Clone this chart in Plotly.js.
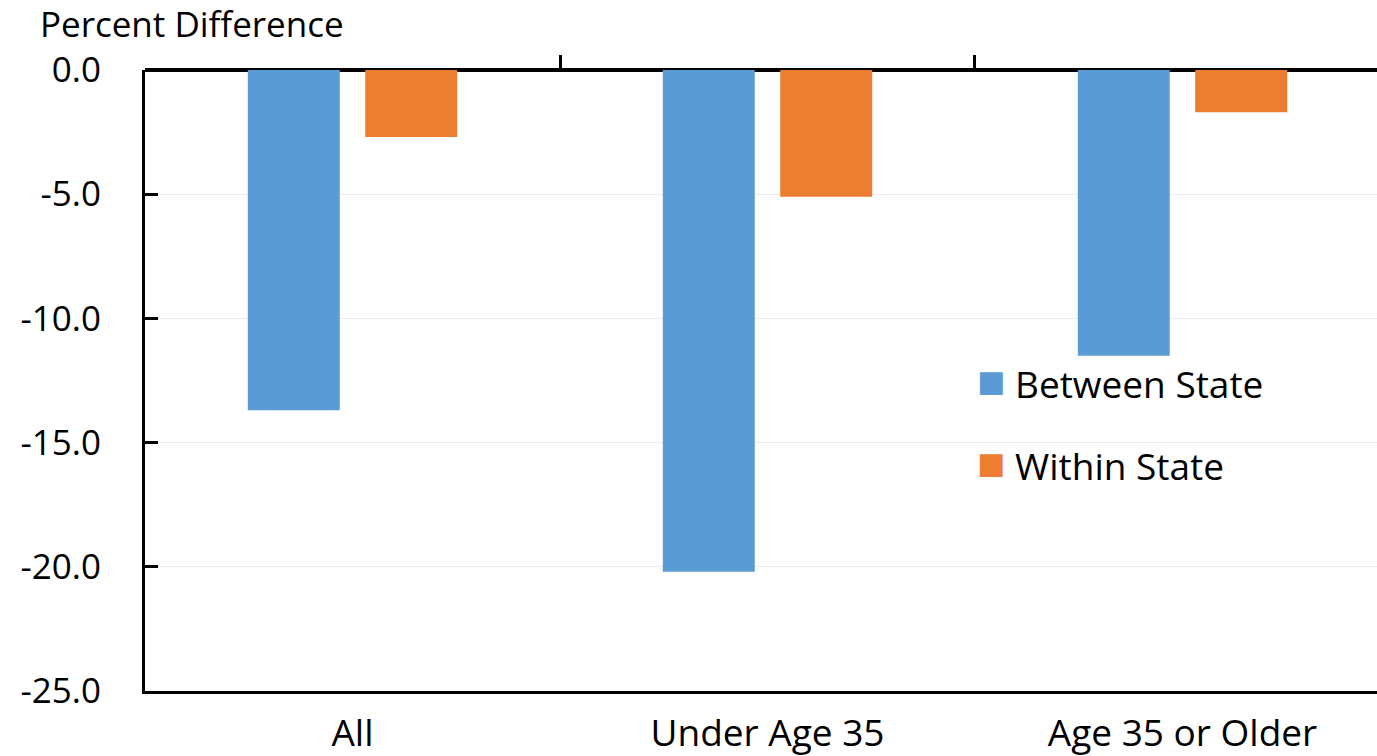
<!DOCTYPE html>
<html><head><meta charset="utf-8">
<script src="https://cdn.plot.ly/plotly-3.0.1.min.js"></script>
<style>html,body{margin:0;padding:0;background:#fff}</style>
</head><body><div id="chart" style="width:1377px;height:756px"></div>
<script>
const categories = ["All", "Under Age 35", "Age 35 or Older"];
const seriesNames = ["Between State", "Within State"];
const seriesColors = ["#5B9BD5", "#ED7D31"];
const betweenState = [-13.7, -20.2, -11.5];
const withinState = [-2.7, -5.1, -1.7];
const yTickVals = [0, -5, -10, -15, -20, -25];
const yTickText = ["0.0", "-5.0", "-10.0", "-15.0", "-20.0", "-25.0"];
const boundaryTicks = [0.5, 1.5];

const FONT = "Open Sans, Noto Sans, sans-serif";
const FS = 37;
const traces = [
  {type: "bar", x: categories, y: betweenState, name: seriesNames[0],
   marker: {color: seriesColors[0]}, hoverinfo: "y"},
  {type: "bar", x: categories, y: withinState, name: seriesNames[1],
   marker: {color: seriesColors[1]}, hoverinfo: "y"},
  {type: "scatter", x: [0], y: [0], xaxis: "x2", mode: "markers",
   marker: {opacity: 0}, showlegend: false, hoverinfo: "skip"}
];
const legendY = [0.5008, 0.3687];
const annotations = seriesNames.map((n, i) => ({
  xref: "paper", yref: "paper", x: 0.674, y: legendY[i],
  xanchor: "left", yanchor: "middle", showarrow: false,
  text: '<span style="color:' + seriesColors[i] + ';font-size:47px">■</span> ' + n,
  font: {family: FONT, size: FS, color: "#000"}
}));
const layout = {
  width: 1377, height: 756,
  margin: {l: 145, r: 0, t: 70, b: 65},
  paper_bgcolor: "#fff", plot_bgcolor: "#fff",
  font: {family: FONT, size: FS, color: "#000"},
  title: {text: "Percent Difference", xref: "container", yref: "container",
          x: 0.029, xanchor: "left", y: 0.967, yanchor: "middle",
          font: {family: FONT, size: 35, color: "#000"}},
  barmode: "group", bargap: 0.434, bargroupgap: 0.217,
  showlegend: false,
  annotations: annotations,
  xaxis: {type: "category", range: [-0.5, 2.4687], showline: true,
          linecolor: "#000", linewidth: 3, ticks: "", showgrid: false,
          zeroline: false, ticklabelstandoff: 8, fixedrange: true,
          tickfont: {family: FONT, size: FS}},
  xaxis2: {overlaying: "x", side: "top", range: [-0.5, 2.4687],
           showline: false, ticks: "outside", ticklen: 14, tickwidth: 3,
           tickcolor: "#000", tickvals: boundaryTicks, showticklabels: false,
           showgrid: false, zeroline: false, anchor: "y"},
  yaxis: {range: [-25, 0], tickvals: yTickVals, ticktext: yTickText,
          showline: true, linecolor: "#000", linewidth: 3,
          ticks: "inside", ticklen: 13, tickwidth: 3, tickcolor: "#000",
          showgrid: true, gridcolor: "#ececec", gridwidth: 1,
          zeroline: true, zerolinecolor: "#000", zerolinewidth: 4,
          ticklabelstandoff: 34, fixedrange: true,
          tickfont: {family: FONT, size: 35}}
};
Plotly.newPlot("chart", traces, layout, {displayModeBar: false, staticPlot: true});
</script></body></html>
